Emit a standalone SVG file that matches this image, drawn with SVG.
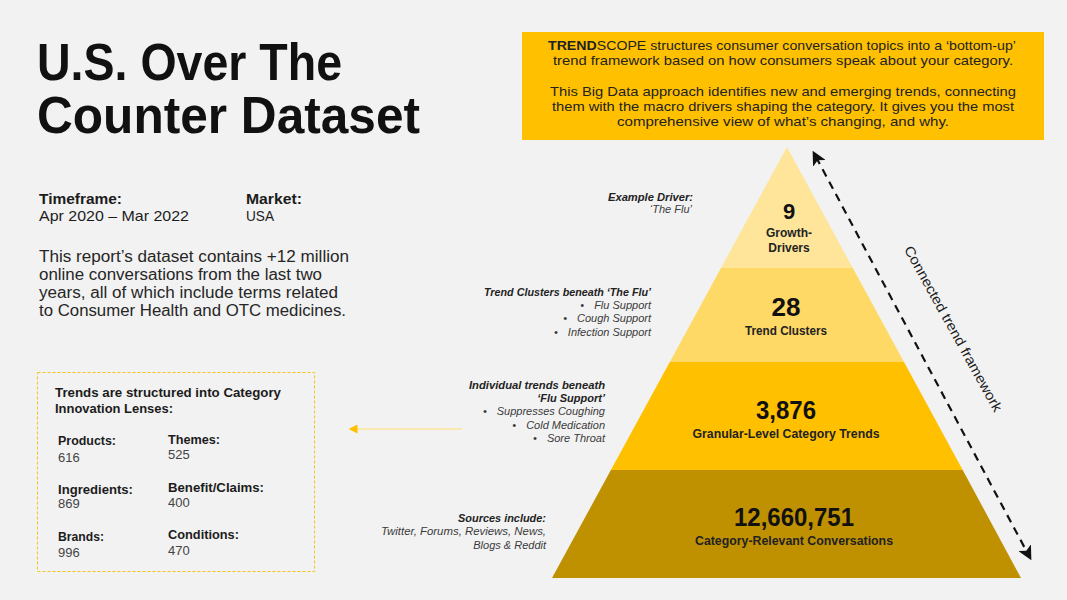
<svg xmlns="http://www.w3.org/2000/svg" width="1067" height="600" viewBox="0 0 1067 600">
<defs>
<style>
text{font-family:"Liberation Sans",Arial,sans-serif;fill:#1c1c1c}
.b{font-weight:bold}
.t{font-size:52px;font-weight:bold;fill:#111}
.lbl{font-size:15px}
.para{font-size:16px;fill:#262626}
.box{font-size:13px;fill:#222}
.bh{font-size:13px;font-weight:bold}
.bv{font-size:13px;fill:#444}
.ann{font-size:11px;font-style:italic;text-anchor:end;fill:#3a3a3a}
.annb{font-size:11px;font-style:italic;font-weight:bold;text-anchor:end;fill:#222}
.pn{font-weight:bold;text-anchor:middle;fill:#111}
.pl{font-size:12px;font-weight:bold;text-anchor:middle;fill:#222}
</style>
<marker id="ah" viewBox="0 0 10 10" refX="5" refY="5" markerWidth="6.5" markerHeight="6.5" orient="auto-start-reverse" markerUnits="strokeWidth">
<path d="M0,0 L10,5 L0,10 L2.5,5 z" fill="#111"/>
</marker>
<marker id="ay" viewBox="0 0 10 10" refX="5" refY="5" markerWidth="6" markerHeight="6" orient="auto-start-reverse">
<path d="M0,0 L10,5 L0,10 z" fill="#FFC000"/>
</marker>
</defs>
<rect width="1067" height="600" fill="#F2F2F2"/>

<g id="title">
<text class="t" x="37" y="80" textLength="305" lengthAdjust="spacingAndGlyphs">U.S. Over The</text>
<text class="t" x="37" y="133" textLength="383" lengthAdjust="spacingAndGlyphs">Counter Dataset</text>
</g>

<g id="meta">
<text class="lbl b" x="39" y="204" textLength="83" lengthAdjust="spacingAndGlyphs">Timeframe:</text>
<text class="lbl" x="39" y="221" textLength="150" lengthAdjust="spacingAndGlyphs">Apr 2020 – Mar 2022</text>
<text class="lbl b" x="246" y="204" textLength="56" lengthAdjust="spacingAndGlyphs">Market:</text>
<text class="lbl" x="246" y="221" textLength="28" lengthAdjust="spacingAndGlyphs">USA</text>
<text class="para" x="39" y="262" textLength="310" lengthAdjust="spacingAndGlyphs">This report’s dataset contains +12 million</text>
<text class="para" x="39" y="280" textLength="283" lengthAdjust="spacingAndGlyphs">online conversations from the last two</text>
<text class="para" x="39" y="298" textLength="299" lengthAdjust="spacingAndGlyphs">years, all of which include terms related</text>
<text class="para" x="39" y="316" textLength="307" lengthAdjust="spacingAndGlyphs">to Consumer Health and OTC medicines.</text>
</g>

<g id="lenses">
<rect x="37.5" y="372.5" width="277" height="199" fill="none" stroke="#F5C518" stroke-width="1" stroke-dasharray="3,2"/>
<text class="bh" x="55" y="397" textLength="226" lengthAdjust="spacingAndGlyphs">Trends are structured into Category</text>
<text class="bh" x="55" y="413" textLength="118" lengthAdjust="spacingAndGlyphs">Innovation Lenses:</text>
<text class="bh" x="58" y="445" textLength="58" lengthAdjust="spacingAndGlyphs">Products:</text>
<text class="bv" x="58" y="462">616</text>
<text class="bh" x="168" y="444" textLength="52" lengthAdjust="spacingAndGlyphs">Themes:</text>
<text class="bv" x="168" y="459">525</text>
<text class="bh" x="58" y="494" textLength="75" lengthAdjust="spacingAndGlyphs">Ingredients:</text>
<text class="bv" x="58" y="508">869</text>
<text class="bh" x="168" y="492" textLength="96" lengthAdjust="spacingAndGlyphs">Benefit/Claims:</text>
<text class="bv" x="168" y="507">400</text>
<text class="bh" x="58" y="541" textLength="46" lengthAdjust="spacingAndGlyphs">Brands:</text>
<text class="bv" x="58" y="557">996</text>
<text class="bh" x="168" y="539" textLength="71" lengthAdjust="spacingAndGlyphs">Conditions:</text>
<text class="bv" x="168" y="555">470</text>
</g>

<g id="intro">
<rect x="522" y="32" width="522" height="108" fill="#FFC000"/>
<text class="box" x="782" y="50" text-anchor="middle" textLength="468" lengthAdjust="spacingAndGlyphs"><tspan font-weight="bold">TREND</tspan>SCOPE structures consumer conversation topics into a ‘bottom-up’</text>
<text class="box" x="783" y="65" text-anchor="middle" textLength="460" lengthAdjust="spacingAndGlyphs">trend framework based on how consumers speak about your category.</text>
<text class="box" x="783" y="96" text-anchor="middle" textLength="466" lengthAdjust="spacingAndGlyphs">This Big Data approach identifies new and emerging trends, connecting</text>
<text class="box" x="783" y="111" text-anchor="middle" textLength="462" lengthAdjust="spacingAndGlyphs">them with the macro drivers shaping the category. It gives you the most</text>
<text class="box" x="783" y="126" text-anchor="middle" textLength="332" lengthAdjust="spacingAndGlyphs">comprehensive view of what’s changing, and why.</text>
</g>

<g id="pyramid">
<g id="layer-drivers">
<polygon points="787,147 852.8,268 721,268" fill="#FEE59A"/>
<text class="pn" x="789" y="219" font-size="22">9</text>
<text class="pl" x="789" y="237">Growth-</text>
<text class="pl" x="789" y="252">Drivers</text>
</g>
<g id="layer-clusters">
<polygon points="721,268 852.8,268 904,362 669.8,362" fill="#FED966"/>
<text class="pn" x="786" y="316" font-size="26">28</text>
<text class="pl" x="786" y="335" textLength="82" lengthAdjust="spacingAndGlyphs">Trend Clusters</text>
</g>
<g id="layer-trends">
<polygon points="669.8,362 904,362 962.7,470 610.9,470" fill="#FFC000"/>
<text class="pn" x="786" y="419" font-size="25" textLength="60" lengthAdjust="spacingAndGlyphs">3,876</text>
<text class="pl" x="786" y="438" textLength="187" lengthAdjust="spacingAndGlyphs">Granular-Level Category Trends</text>
</g>
<g id="layer-conversations">
<polygon points="610.9,470 962.7,470 1021,578 552,578" fill="#BF9000"/>
<text class="pn" x="794" y="526" font-size="25" textLength="120" lengthAdjust="spacingAndGlyphs">12,660,751</text>
<text class="pl" x="794" y="545" textLength="198" lengthAdjust="spacingAndGlyphs">Category-Relevant Conversations</text>
</g>
</g>

<g id="annotations">
<text class="annb" x="693" y="201" textLength="85" lengthAdjust="spacingAndGlyphs">Example Driver:</text>
<text class="ann" x="692" y="213">‘The Flu’</text>
<text class="annb" x="651" y="296" textLength="167" lengthAdjust="spacingAndGlyphs">Trend Clusters beneath ‘The Flu’</text>
<text class="ann" x="651" y="309">•<tspan dx="10">Flu Support</tspan></text>
<text class="ann" x="651" y="322">•<tspan dx="10">Cough Support</tspan></text>
<text class="ann" x="651" y="336">•<tspan dx="10">Infection Support</tspan></text>
<text class="annb" x="605" y="389" textLength="136" lengthAdjust="spacingAndGlyphs">Individual trends beneath</text>
<text class="annb" x="605" y="402">‘Flu Support’</text>
<text class="ann" x="605" y="415">•<tspan dx="10">Suppresses Coughing</tspan></text>
<text class="ann" x="605" y="429">•<tspan dx="10">Cold Medication</tspan></text>
<text class="ann" x="605" y="442">•<tspan dx="10">Sore Throat</tspan></text>
<text class="annb" x="546" y="522" textLength="88" lengthAdjust="spacingAndGlyphs">Sources include:</text>
<text class="ann" x="546" y="535" textLength="165" lengthAdjust="spacingAndGlyphs">Twitter, Forums, Reviews, News,</text>
<text class="ann" x="546" y="549">Blogs &amp; Reddit</text>
</g>

<g id="connectors">
<line x1="816" y1="157" x2="1028" y2="554" stroke="#111" stroke-width="2.2" stroke-dasharray="8,6" marker-start="url(#ah)" marker-end="url(#ah)"/>
<line x1="462" y1="429" x2="353" y2="429" stroke="#FDE49A" stroke-width="1.5" marker-end="url(#ay)"/>
<text x="0" y="0" font-size="14" fill="#333" text-anchor="middle" transform="translate(949,331) rotate(61)" textLength="187" lengthAdjust="spacingAndGlyphs">Connected trend framework</text>
</g>
</svg>
